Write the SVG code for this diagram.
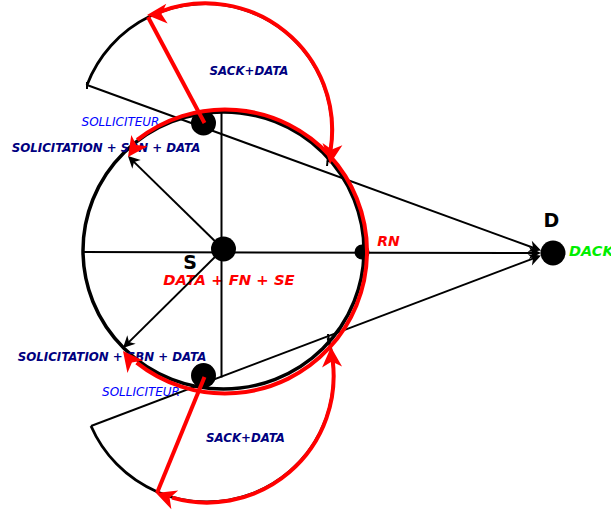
<svg xmlns="http://www.w3.org/2000/svg" xmlns:xlink="http://www.w3.org/1999/xlink" width="611" height="510" viewBox="0 0 611 510">
  <style>
    .thin { fill: none; stroke: #000; stroke-width: 2; }
    .rng { fill: none; stroke: #000; stroke-width: 3.5; }
    .arc { fill: none; stroke: #000; stroke-width: 2.8; }
    .red { fill: none; stroke: #ff0000; stroke-width: 4; }
    .node { fill: #000; }
    text { font-family: "DejaVu Sans", "Liberation Sans", sans-serif; }
    .lblB { font-weight: bold; font-style: italic; fill: #000080; font-size: 11.8px; }
    .sol { font-style: italic; fill: #0000ff; font-size: 12px; }
    .nm { font-weight: bold; fill: #000; font-size: 19px; }
    .redT { font-weight: bold; font-style: italic; fill: #ff0000; }
    .grn { font-weight: bold; font-style: italic; fill: #00ee00; font-size: 14.5px; }
  </style>
  <defs>
    <marker id="ab" markerUnits="userSpaceOnUse" markerWidth="16" markerHeight="14" refX="10" refY="7" orient="auto" overflow="visible">
      <path d="M13,7 L1,1 L4.5,7 L1,13 Z" fill="#000"/>
    </marker>
    <path id="rah" d="M0,0 L-20,-10 L-14.5,0 L-20,10 Z" fill="#ff0000"/>
  </defs>

  <g id="ranges">
    <ellipse class="rng" cx="223.5" cy="250.5" rx="140.5" ry="138.5"/>
    <path class="arc" d="M87,85 A126.7,126.7 0 0 1 328,162"/>
    <path class="arc" d="M91,426 A126.6,126.6 0 0 0 328,338"/>
    <path class="thin" d="M87,82 L87,89 M328,157 L327,166 M328,334 L329,342"/>
  </g>

  <g id="labels">
    <text class="lblB" x="249" y="75" text-anchor="middle">SACK+DATA</text>
    <text class="lblB" x="106" y="152" text-anchor="middle">SOLICITATION + SBN + DATA</text>
    <text class="lblB" x="112" y="361" text-anchor="middle">SOLICITATION + SBN + DATA</text>
    <text class="lblB" x="245.5" y="442" text-anchor="middle">SACK+DATA</text>
  </g>

  <g id="node-S">
    <circle class="node" cx="223.5" cy="249" r="12.5"/>
    <text class="nm" x="190" y="268.5" text-anchor="middle">S</text>
    <text class="redT" x="229" y="285" text-anchor="middle" font-size="14.8">DATA + FN + SE</text>
  </g>
  <g id="node-sol-top">
    <circle class="node" cx="203.5" cy="123" r="12.5"/>
    <text class="sol" x="120.5" y="125.5" text-anchor="middle">SOLLICITEUR</text>
  </g>
  <g id="node-sol-bottom">
    <circle class="node" cx="203.5" cy="375.5" r="12.5"/>
    <text class="sol" x="141" y="395.5" text-anchor="middle">SOLLICITEUR</text>
  </g>
  <g id="node-RN">
    <circle class="node" cx="362" cy="252" r="7.5"/>
    <text class="redT" x="388.5" y="246" text-anchor="middle" font-size="14">RN</text>
  </g>
  <g id="node-D">
    <circle class="node" cx="553" cy="253" r="12.5"/>
    <text class="nm" x="551.5" y="227" text-anchor="middle">D</text>
    <text class="grn" x="569" y="255.5">DACK</text>
  </g>

  <g id="connectors">
    <line class="thin" x1="83" y1="252" x2="538" y2="253" marker-end="url(#ab)"/>
    <line class="thin" x1="87" y1="85" x2="538.2" y2="249.5" marker-end="url(#ab)"/>
    <line class="thin" x1="91" y1="426" x2="538.2" y2="256.6" marker-end="url(#ab)"/>
    <line class="thin" x1="221.5" y1="113" x2="221.5" y2="377.5"/>
    <line class="thin" x1="223" y1="249" x2="130.1" y2="158.1" marker-end="url(#ab)"/>
    <line class="thin" x1="223" y1="249" x2="125.1" y2="345.9" marker-end="url(#ab)"/>

    <path class="red" d="M137.2,139.9 A142,142 0 1 1 136.6,362.6"/>
    <path class="red" d="M159.9,11.8 A126.7,126.7 0 0 1 330.6,149.8"/>
    <path class="red" d="M332.7,360.6 A126.6,126.6 0 0 1 172.1,497.7"/>
    <line class="red" x1="204.5" y1="123" x2="148" y2="17"/>
    <line class="red" x1="204.5" y1="377" x2="157" y2="493"/>

    <use xlink:href="#rah" transform="translate(147,15) rotate(176)"/>
    <use xlink:href="#rah" transform="translate(330,164) rotate(97)"/>
    <use xlink:href="#rah" transform="translate(128,157) rotate(125)"/>
    <use xlink:href="#rah" transform="translate(123,351) rotate(-128)"/>
    <use xlink:href="#rah" transform="translate(331,347) rotate(-93)"/>
    <use xlink:href="#rah" transform="translate(156,493) rotate(-160)"/>
  </g>
</svg>
